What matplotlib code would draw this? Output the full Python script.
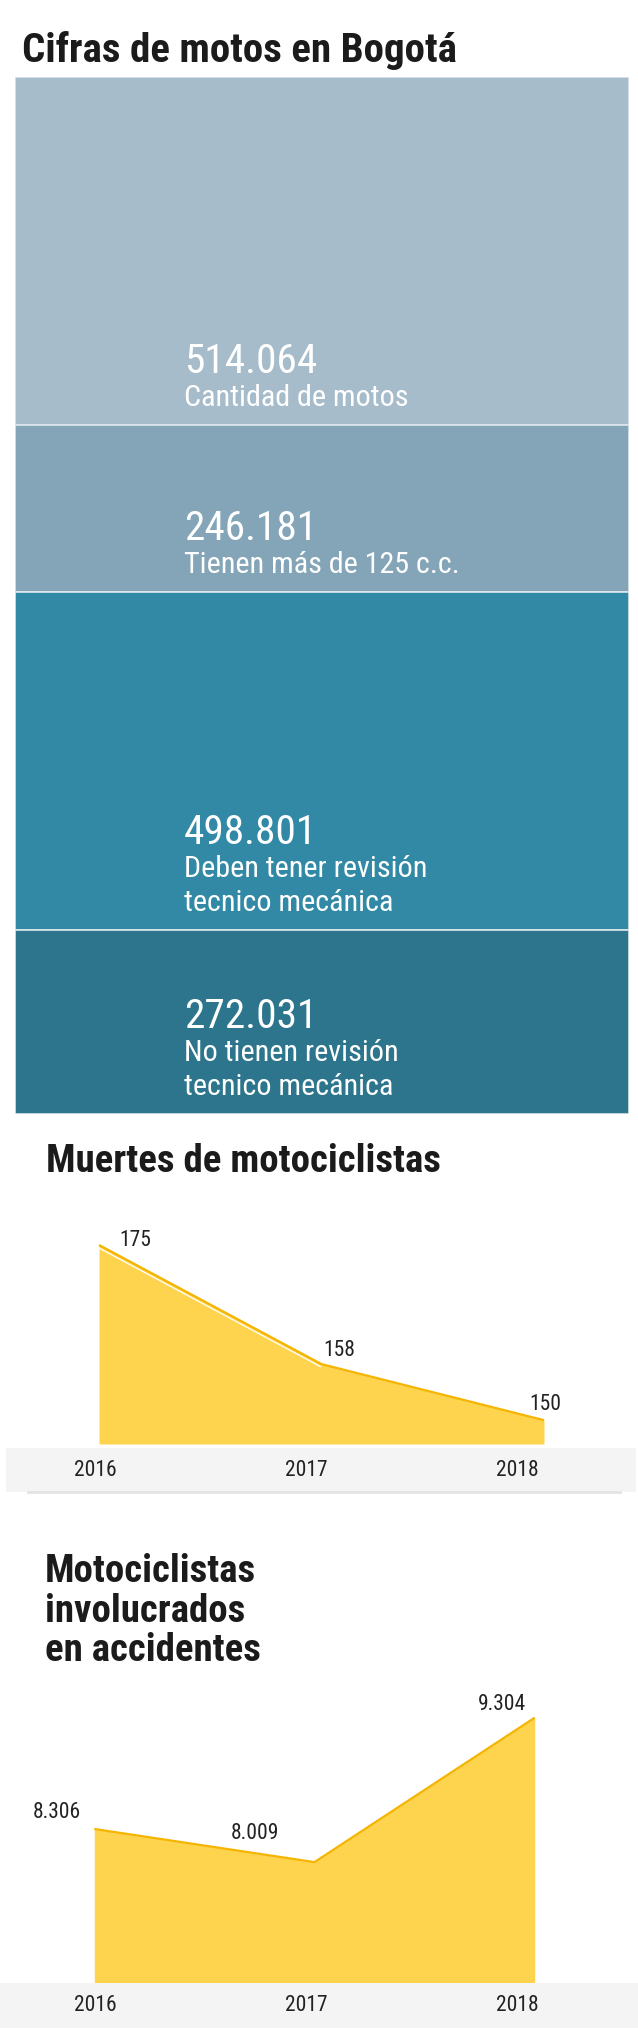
import matplotlib
matplotlib.use('Agg')
import matplotlib.pyplot as plt
from matplotlib import font_manager
from matplotlib.transforms import offset_copy

W, H = 638, 2034

# --- data ---
block_values = [514064, 246181, 498801, 272031]
block_labels = [["Cantidad de motos"],
                ["Tienen más de 125 c.c."],
                ["Deben tener revisión", "tecnico mecánica"],
                ["No tienen revisión", "tecnico mecánica"]]
block_colors = ['#a6bcca', '#84a5b8', '#3189a6', '#2c758c']

years = [2016, 2017, 2018]
muertes = [175, 158, 150]
involucrados = [8306, 8009, 9304]

# --- fonts ---
names = {f.name for f in font_manager.fontManager.ttflist}
family = 'Roboto'
for cand in ['Roboto Condensed', 'Liberation Sans Narrow', 'Roboto']:
    if cand in names:
        family = cand
        break
plt.rcParams['font.family'] = [family, 'DejaVu Sans']

def fmt(v):
    return f"{v:,}".replace(',', '.')

def px_axes(fig, x0, y0, x1, y1):
    return fig.add_axes([x0 / W, 1 - y1 / H, (x1 - x0) / W, (y1 - y0) / H])

fig = plt.figure(figsize=(W / 100, H / 100), dpi=100)
fig.patch.set_facecolor('white')

# --- block chart ---
fig.text(22 / W, 1 - 62 / H, "Cifras de motos en Bogotá", fontsize=29.5,
         fontweight='bold', color='#1b1b1b', va='baseline')

ax = px_axes(fig, 15, 77, 629, 1114)
total = sum(block_values)
bottom = 0
tx = (184 - 15) / (629 - 15)
for v, lab, c in zip(block_values, block_labels, block_colors):
    ax.bar(0, v, bottom=bottom, width=1, color=c, edgecolor='#dde6ec', linewidth=1.2)
    seg_end = bottom + v
    n = len(lab)
    for k, line in enumerate(lab):
        ax.annotate(line, xy=(tx, seg_end), xycoords=('axes fraction', 'data'),
                    xytext=(0, 19 + 34 * (n - 1 - k)), textcoords='offset pixels',
                    fontsize=21.7, color='white', va='baseline', ha='left')
    ax.annotate(fmt(v), xy=(tx, seg_end), xycoords=('axes fraction', 'data'),
                xytext=(0, 19 + 34 * (n - 1) + 33), textcoords='offset pixels',
                fontsize=29.7, color='white', va='baseline', ha='left')
    bottom = seg_end
ax.set_xlim(-0.5, 0.5)
ax.set_ylim(total, 0)
ax.axis('off')


def area_chart(x0, x1, ytop, ybot, ylim, values, offsets, band, band_line, white_edge):
    a = px_axes(fig, x0, ytop, x1, ybot)
    a.fill_between(years, values, ylim[0], color='#fed44f', linewidth=0)
    if white_edge:
        below = offset_copy(a.transData, fig=fig, x=-1, y=-2.5, units='dots')
        a.plot(years[:2], values[:2], color='white', linewidth=0.9, transform=below)
    a.plot(years, values, color='#f5b400', linewidth=1.6, clip_on=False,
           solid_capstyle='butt')
    for yr, v, (dx, dy, ha) in zip(years, values, offsets):
        a.annotate(fmt(v), xy=(yr, v), xytext=(dx, dy), textcoords='offset pixels',
                   fontsize=15.5, color='#222222', ha=ha, va='baseline')
    a.set_xlim(years[0], years[-1])
    a.set_ylim(*ylim)
    a.axis('off')

    # band with year labels
    bx0, by0, bx1, by1 = band
    b = px_axes(fig, bx0, by0, bx1, by1)
    b.set_facecolor('#f4f4f4')
    lab0, dlab = 95.5, 210.75
    b.set_xlim(years[0] - (lab0 - bx0) / dlab, years[0] + (bx1 - lab0) / dlab)
    b.set_ylim(0, 1)
    for yr in years:
        b.text(yr, 0.5, str(yr), fontsize=15.5, color='#222222', ha='center', va='center')
    for s in b.spines.values():
        s.set_visible(False)
    if band_line:
        b.plot([0.035, 0.975], [0, 0], transform=b.transAxes, color='#e4e4e4',
               linewidth=2, clip_on=False)
    b.set_xticks([])
    b.set_yticks([])


# --- muertes ---
fig.text(46 / W, 1 - 1172 / H, "Muertes de motociclistas", fontsize=28,
         fontweight='bold', color='#1b1b1b', va='baseline')
area_chart(99, 544, 1245, 1444, (146.6, 175), muertes,
           [(20, -1, 'left'), (2, 8, 'left'), (-15, 10, 'left')],
           (6, 1448, 636, 1492), True, True)

# --- involucrados ---
for k, line in enumerate(["Motociclistas", "involucrados", "en accidentes"]):
    fig.text(45 / W, 1 - (1582 + 39.5 * k) / H, line, fontsize=28,
             fontweight='bold', color='#1b1b1b', va='baseline')
area_chart(94.3, 534.7, 1717.7, 1983, (6925, 9304), involucrados,
           [(-13, 11, 'right'), (-35, 23, 'right'), (-9, 8, 'right')],
           (0, 1983, 638, 2028), False, False)

fig.savefig('out.png', dpi=100)
